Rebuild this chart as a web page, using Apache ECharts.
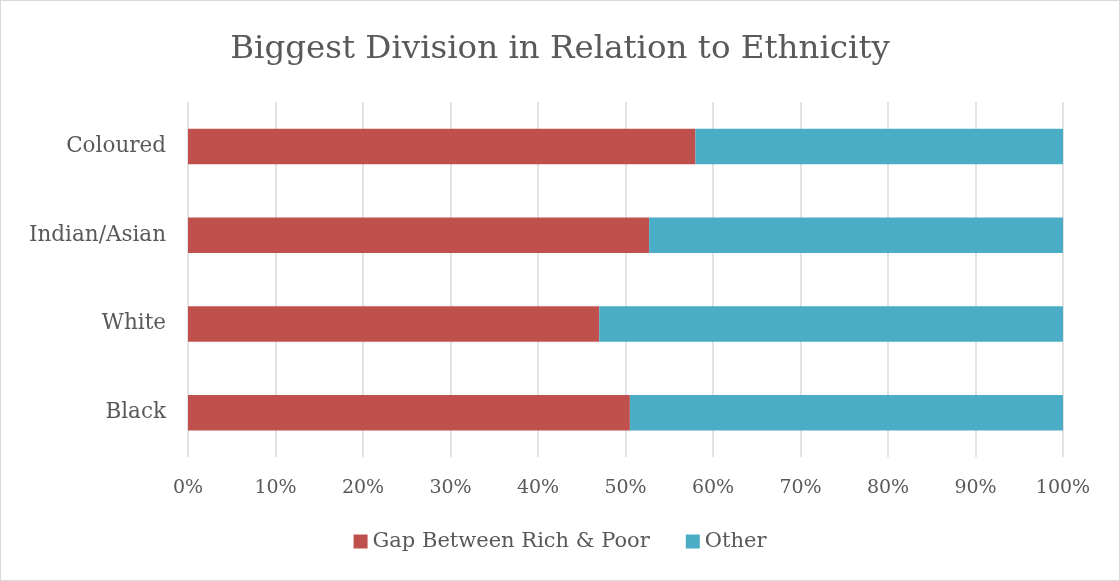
<!DOCTYPE html>
<html><head><meta charset="utf-8">
<script src="https://cdn.jsdelivr.net/npm/echarts@6/dist/echarts.min.js"></script>
<style>html,body{margin:0;padding:0;background:#fff}#c{position:absolute;left:0;top:0;width:1118px;height:579px;border:1px solid #d9d9d9}</style>
</head><body><div id="c"></div>
<script>
const categories = ['Black', 'White', 'Indian/Asian', 'Coloured'];
const gapValues = [50.5, 47.0, 52.7, 58.0];
const otherValues = [49.5, 53.0, 47.3, 42.0];
const seriesNames = ['Gap Between Rich & Poor', 'Other'];
const titleText = 'Biggest Division in Relation to Ethnicity';
const font = 'DejaVu Serif';
const chart = echarts.init(document.getElementById('c'));
chart.setOption({
  animation: false,
  title: {text: titleText, left: 'center', top: 27, textStyle: {fontFamily: font, fontSize: 32.5, fontWeight: 'normal', color: '#595959'}},
  legend: {bottom: 23, left: 'center', itemWidth: 14, itemHeight: 14, itemGap: 36, icon: 'rect',
    textStyle: {fontFamily: font, fontSize: 21, color: '#595959'}, data: seriesNames},
  grid: {left: 187, right: 56, top: 101, bottom: 123},
  xAxis: {type: 'value', min: 0, max: 100, interval: 10,
    axisLabel: {formatter: '{value}%', fontFamily: font, fontSize: 19, color: '#595959', margin: 22},
    splitLine: {show: true, lineStyle: {color: '#d9d9d9', width: 1.5}}, axisLine: {show: false}, axisTick: {show: false}},
  yAxis: {type: 'category', data: categories,
    axisLabel: {fontFamily: font, fontSize: 21.5, color: '#595959', margin: 22},
    axisLine: {show: false}, axisTick: {show: false}},
  series: [
    {name: seriesNames[0], type: 'bar', stack: 'a', data: gapValues, barCategoryGap: '60%', itemStyle: {color: '#C0504D'}},
    {name: seriesNames[1], type: 'bar', stack: 'a', data: otherValues, barCategoryGap: '60%', itemStyle: {color: '#4BACC6'}}
  ]
});
</script></body></html>
